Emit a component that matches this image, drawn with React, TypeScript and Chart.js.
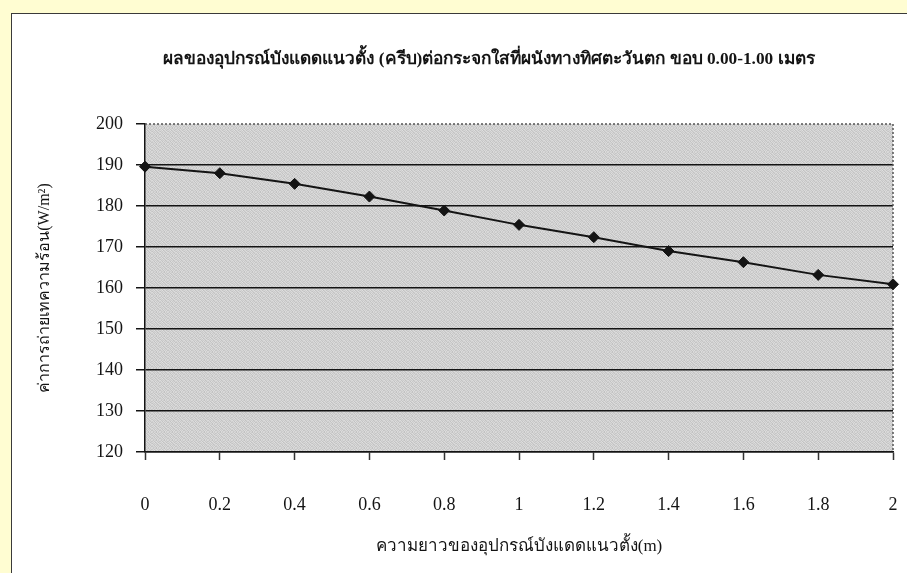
import { useEffect, useRef } from 'react';
import { Chart, registerables } from 'chart.js';

Chart.register(...registerables);

// Text
const chartTitle =
  'ผลของอุปกรณ์บังแดดแนวตั้ง (ครีบ)ต่อกระจกใสที่ผนังทางทิศตะวันตก ขอบ 0.00-1.00 เมตร';
const xAxisTitle = 'ความยาวของอุปกรณ์บังแดดแนวตั้ง(m)';
const yAxisTitle = 'ค่าการถ่ายเทความร้อน(W/m²)';

// Fin length (m) categories and heat transfer (W/m²)
const finLengths = ['0', '0.2', '0.4', '0.6', '0.8', '1', '1.2', '1.4', '1.6', '1.8', '2'];
const heatTransfer = [189.6, 188.0, 185.4, 182.3, 178.9, 175.4, 172.4, 169.0, 166.3, 163.2, 160.9];

// Value axis range
const yMin = 120;
const yMax = 200;
const yStep = 10;

const SERIF = "'Liberation Serif', 'Times New Roman', 'DejaVu Serif', serif";
const INK = '#141414';

// Speckled grey fill for the plot area (fixed 8x8 tile)
const SPECKLE = [
  [212, 198, 217, 206, 194, 215, 204, 219],
  [201, 220, 196, 211, 222, 200, 213, 197],
  [216, 205, 223, 193, 207, 218, 195, 210],
  [195, 214, 202, 219, 199, 209, 221, 203],
  [220, 199, 211, 204, 216, 194, 206, 217],
  [206, 218, 194, 222, 201, 213, 198, 212],
  [198, 211, 215, 197, 219, 204, 220, 196],
  [217, 202, 207, 214, 193, 221, 202, 215],
];

function makePlotPattern(ctx: CanvasRenderingContext2D): CanvasPattern | string {
  const n = SPECKLE.length;
  const tile = document.createElement('canvas');
  tile.width = n;
  tile.height = n;
  const tctx = tile.getContext('2d');
  if (!tctx) return '#cfcfcf';
  const img = tctx.createImageData(n, n);
  for (let r = 0; r < n; r++) {
    for (let c = 0; c < n; c++) {
      const i = (r * n + c) * 4;
      const v = SPECKLE[r][c];
      img.data[i] = v;
      img.data[i + 1] = v;
      img.data[i + 2] = v;
      img.data[i + 3] = 255;
    }
  }
  tctx.putImageData(img, 0, 0);
  return ctx.createPattern(tile, 'repeat') || '#cfcfcf';
}

const plotBackground = {
  id: 'plotBackground',
  beforeDraw(chart: any) {
    const { ctx, chartArea } = chart;
    if (!chartArea) return;
    ctx.save();
    ctx.fillStyle = makePlotPattern(ctx);
    ctx.fillRect(chartArea.left, chartArea.top, chartArea.right - chartArea.left, chartArea.bottom - chartArea.top);
    ctx.restore();
  },
};

// Dotted frame on the top and right of the plot area
const plotFrame = {
  id: 'plotFrame',
  beforeDatasetsDraw(chart: any) {
    const { ctx, chartArea } = chart;
    if (!chartArea) return;
    ctx.save();
    ctx.strokeStyle = '#555';
    ctx.lineWidth = 1.5;
    ctx.setLineDash([2, 2]);
    ctx.beginPath();
    ctx.moveTo(chartArea.left, chartArea.top);
    ctx.lineTo(chartArea.right, chartArea.top);
    ctx.lineTo(chartArea.right, chartArea.bottom);
    ctx.stroke();
    ctx.restore();
  },
};

const headline = {
  id: 'headline',
  afterDraw(chart: any) {
    const { ctx } = chart;
    ctx.save();
    ctx.font = `bold 17.3px ${SERIF}`;
    ctx.fillStyle = INK;
    ctx.textAlign = 'center';
    ctx.textBaseline = 'middle';
    ctx.fillText(chartTitle, 489, 60);
    ctx.restore();
  },
};

export default function App() {
  const canvasRef = useRef<HTMLCanvasElement | null>(null);

  useEffect(() => {
    const canvas = canvasRef.current;
    if (!canvas) return;
    const chart = new Chart(canvas, {
      type: 'line',
      data: {
        labels: finLengths,
        datasets: [
          {
            data: heatTransfer,
            borderColor: INK,
            borderWidth: 2,
            backgroundColor: INK,
            pointStyle: 'rectRot',
            pointRadius: 5.5,
            pointBackgroundColor: INK,
            pointBorderColor: INK,
            pointBorderWidth: 1,
            tension: 0,
            fill: false,
            clip: false as any,
          },
        ],
      },
      options: {
        responsive: false,
        animation: false,
        devicePixelRatio: 1,
        layout: { padding: { top: 124, right: 14, left: 0, bottom: 0 } },
        plugins: {
          legend: { display: false },
          tooltip: { enabled: false },
          title: { display: false },
        },
        scales: {
          x: {
            type: 'category',
            offset: false,
            afterFit: (scale: any) => {
              scale.height = 121;
              scale.paddingLeft = 0;
              scale.paddingRight = 0;
            },
            grid: {
              drawOnChartArea: false,
              drawTicks: true,
              tickLength: 8,
              tickColor: '#333',
              tickWidth: 1.5,
            },
            border: { display: true, color: INK, width: 1.5 },
            ticks: {
              color: INK,
              font: { family: SERIF, size: 18 },
              padding: 34,
              maxRotation: 0,
              autoSkip: false,
            },
            title: {
              display: true,
              text: xAxisTitle,
              color: INK,
              font: { family: SERIF, size: 17 },
              padding: { top: 0, bottom: 16 },
            },
          },
          y: {
            min: yMin,
            max: yMax,
            afterFit: (scale: any) => {
              scale.width = 145;
            },
            ticks: {
              stepSize: yStep,
              color: INK,
              font: { family: SERIF, size: 18 },
              padding: 13,
            },
            grid: {
              color: (c: any) => (c.tick && c.tick.value === yMax ? 'rgba(0,0,0,0)' : INK),
              lineWidth: 1.5,
              tickColor: INK,
              tickWidth: 1.5,
              tickLength: 9,
            },
            border: { display: true, color: INK, width: 1.5 },
            title: {
              display: true,
              text: yAxisTitle,
              color: INK,
              font: { family: SERIF, size: 16 },
              padding: { top: 35, bottom: 0 },
            },
          },
        },
      },
      plugins: [plotBackground, plotFrame, headline],
    });
    return () => chart.destroy();
  }, []);

  return (
    <div
      style={{
        position: 'absolute',
        left: 0,
        top: 0,
        width: 907,
        height: 573,
        background: '#fffdd2',
        overflow: 'hidden',
      }}
    >
      <div
        style={{
          position: 'absolute',
          left: 11,
          top: 13,
          width: 907 - 11,
          height: 573 - 13,
          background: '#ffffff',
          borderTop: '1.5px solid #3a3a3a',
          borderLeft: '1.5px solid #3a3a3a',
          boxSizing: 'border-box',
        }}
      />
      <canvas
        ref={canvasRef}
        width={907}
        height={573}
        style={{ position: 'absolute', left: 0, top: 0, width: 907, height: 573 }}
      />
    </div>
  );
}
